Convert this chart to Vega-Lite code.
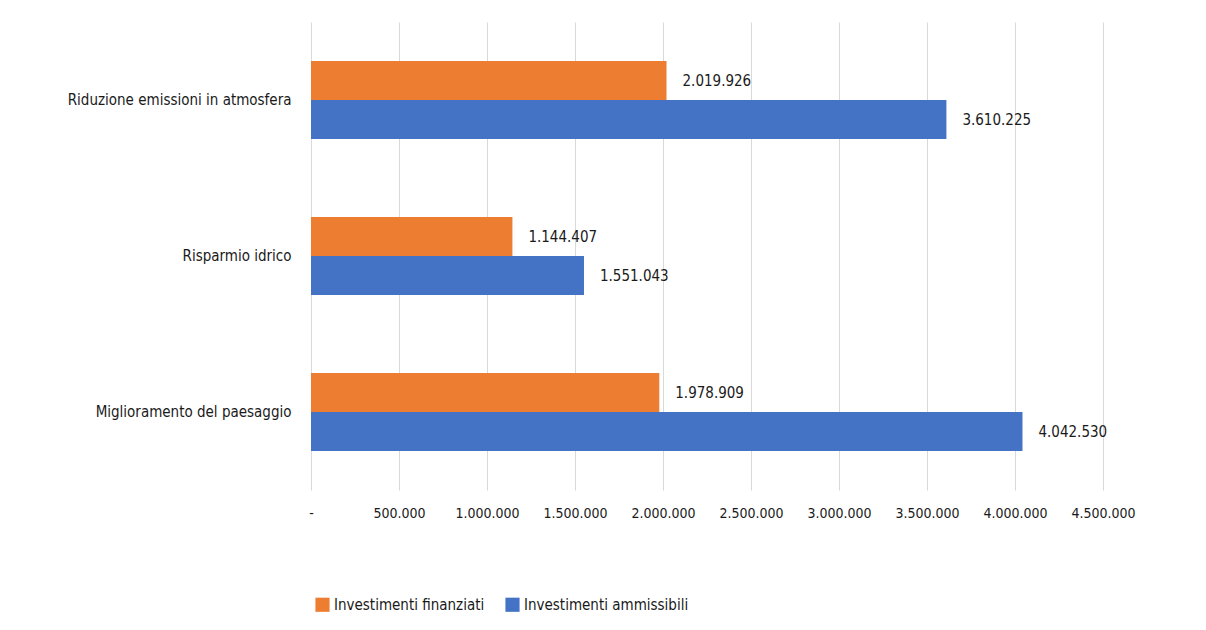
{
  "$schema": "https://vega.github.io/schema/vega-lite/v6.json",
  "autosize": "none",
  "padding": {"left": 311, "top": 22, "right": 103, "bottom": 140},
  "width": 792,
  "height": 468,
  "background": "white",
  "config": {
    "locale": {"number": {"decimal": ",", "thousands": ".", "grouping": [3], "currency": ["€", ""]}},
    "font": "DejaVu Sans Condensed",
    "axis": {"labelFont": "DejaVu Sans Condensed"},
    "legend": {"labelFont": "DejaVu Sans Condensed"},
    "view": {"stroke": null}
  },
  "data": {"values": [
    {"cat": "Riduzione emissioni in atmosfera", "serie": "Investimenti finanziati", "v": 2019926},
    {"cat": "Riduzione emissioni in atmosfera", "serie": "Investimenti ammissibili", "v": 3610225},
    {"cat": "Risparmio idrico", "serie": "Investimenti finanziati", "v": 1144407},
    {"cat": "Risparmio idrico", "serie": "Investimenti ammissibili", "v": 1551043},
    {"cat": "Miglioramento del paesaggio", "serie": "Investimenti finanziati", "v": 1978909},
    {"cat": "Miglioramento del paesaggio", "serie": "Investimenti ammissibili", "v": 4042530}
  ]},
  "encoding": {
    "y": {"field": "cat", "type": "nominal", "sort": ["Riduzione emissioni in atmosfera", "Risparmio idrico", "Miglioramento del paesaggio"],
      "scale": {"paddingInner": 0.5, "paddingOuter": 0.25},
      "axis": {"title": null, "domain": false, "ticks": false, "labelPadding": 20, "labelFontSize": 15, "labelLimit": 300, "labelColor": "#1a1a1a"}},
    "yOffset": {"field": "serie", "type": "nominal", "sort": ["Investimenti finanziati", "Investimenti ammissibili"]},
    "x": {"field": "v", "type": "quantitative", "scale": {"domain": [0, 4500000], "nice": false},
      "axis": {"title": null, "domain": false, "ticks": false, "values": [0, 500000, 1000000, 1500000, 2000000, 2500000, 3000000, 3500000, 4000000, 4500000],
        "labelOverlap": false, "labelFlush": false,
        "labelExpr": "datum.value == 0 ? '-' : format(datum.value, ',d')", "labelPadding": 16, "labelFontSize": 14, "labelColor": "#1a1a1a", "gridColor": "#d9d9d9", "gridWidth": 1}}
  },
  "layer": [
    {"mark": {"type": "bar"},
     "encoding": {"color": {"field": "serie", "type": "nominal", "sort": ["Investimenti finanziati", "Investimenti ammissibili"],
       "scale": {"domain": ["Investimenti finanziati", "Investimenti ammissibili"], "range": ["#ED7D31", "#4472C4"]},
       "legend": {"title": null, "orient": "none", "legendX": 4, "legendY": 575, "direction": "horizontal", "symbolType": "square", "symbolSize": 200, "symbolStrokeWidth": 0, "labelFontSize": 15, "labelLimit": 300, "labelColor": "#1a1a1a", "columnPadding": 20, "labelOffset": 4}}}},
    {"mark": {"type": "text", "align": "left", "baseline": "middle", "dx": 16, "fontSize": 15, "color": "#1a1a1a"},
     "encoding": {"text": {"field": "v", "type": "quantitative", "format": ",d"}}}
  ]
}
